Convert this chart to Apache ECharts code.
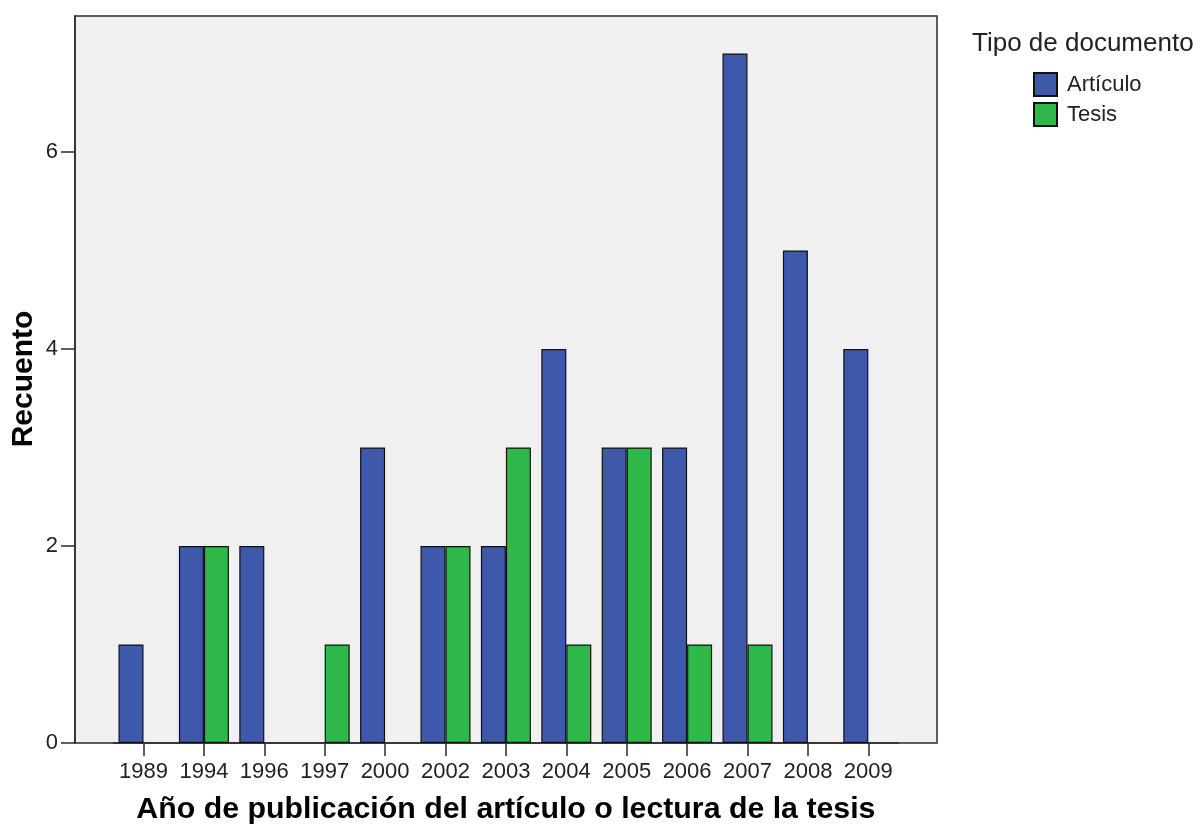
<!DOCTYPE html>
<html>
<head>
<meta charset="utf-8">
<script src="https://cdn.jsdelivr.net/npm/echarts@6/dist/echarts.min.js"></script>
<style>
html,body{margin:0;padding:0;background:#fff;}
#chart{width:1201px;height:825px;}
</style>
</head>
<body>
<div id="chart"></div>
<script>
const years = ['1989','1994','1996','1997','2000','2002','2003','2004','2005','2006','2007','2008','2009'];
const articulo = [1,2,2,0,3,2,2,4,3,3,7,5,4];
const tesis = [0,2,0,1,0,2,3,1,3,1,1,0,0];
const yTicks = [0,2,4,6];

const FONT = '"Liberation Sans", Arial, sans-serif';
const toBar = a => a.map(v => v === 0 ? '-' : v);
const YMAX = 7.38;

const chart = echarts.init(document.getElementById('chart'), null, {renderer:'canvas'});
chart.setOption({
  animation: false,
  backgroundColor: '#ffffff',
  grid: [
    {left: 75, top: 16, width: 862, height: 727, show: true, backgroundColor: '#f0f0f0',
     borderColor: '#2b2b2b', borderWidth: 1.5, containLabel: false, outerBoundsMode: 'none'},
    {left: 113.3, top: 16, width: 785.2, height: 727, show: false, containLabel: false, outerBoundsMode: 'none'}
  ],
  xAxis: [
    {gridIndex: 0, type: 'value', min: 0, max: 1, show: false},
    {gridIndex: 1, type: 'category', data: years, boundaryGap: true,
     axisLine: {show: true, lineStyle: {color: '#2b2b2b', width: 1.5}},
     axisTick: {show: true, alignWithLabel: true, interval: 0, length: 13, lineStyle: {color: '#2b2b2b', width: 1.5}},
     axisLabel: {show: true, interval: 0, hideOverlap: false, margin: 18, fontSize: 22, color: '#222', fontFamily: FONT},
     name: 'Año de publicación del artículo o lectura de la tesis',
     nameLocation: 'middle', nameGap: 52,
     nameTextStyle: {fontSize: 30.3, fontWeight: 'bold', color: '#000', fontFamily: FONT}}
  ],
  yAxis: [
    {gridIndex: 0, type: 'value', min: 0, max: YMAX, interval: 2,
     axisLine: {show: true, lineStyle: {color: '#2b2b2b', width: 1.5}},
     axisTick: {show: true, length: 14, customValues: yTicks, lineStyle: {color: '#2b2b2b', width: 1.5}},
     axisLabel: {show: true, margin: 17, fontSize: 22, color: '#222', fontFamily: FONT,
       customValues: yTicks},
     splitLine: {show: false}},
    {gridIndex: 1, type: 'value', min: 0, max: YMAX, show: false, splitLine: {show: false}}
  ],
  legend: {
    orient: 'vertical', left: 1033, top: 72, padding: 0,
    itemWidth: 23, itemHeight: 23, itemGap: 5, icon: 'rect',
    textStyle: {fontSize: 22, color: '#222', fontFamily: FONT, padding: [0,0,0,5]},
    data: ['Artículo', 'Tesis']
  },
  graphic: [
    {type: 'text', left: 972, top: 31,
     style: {text: 'Tipo de documento', fontSize: 26, fill: '#222', fontFamily: FONT}},
    {type: 'text', x: 24, y: 379, rotation: Math.PI / 2,
     style: {text: 'Recuento', fontSize: 30, fontWeight: 'bold', fill: '#000', fontFamily: FONT,
       align: 'center', verticalAlign: 'middle'}}
  ],
  series: [
    {name: 'Artículo', type: 'bar', xAxisIndex: 1, yAxisIndex: 1, data: toBar(articulo),
     barWidth: 25, barGap: '0%',
     itemStyle: {color: '#3e58ab', borderColor: '#111', borderWidth: 1.2}},
    {name: 'Tesis', type: 'bar', xAxisIndex: 1, yAxisIndex: 1, data: toBar(tesis),
     barWidth: 25, barGap: '0%',
     itemStyle: {color: '#2eb94a', borderColor: '#111', borderWidth: 1.2}}
  ]
});
</script>
</body>
</html>
